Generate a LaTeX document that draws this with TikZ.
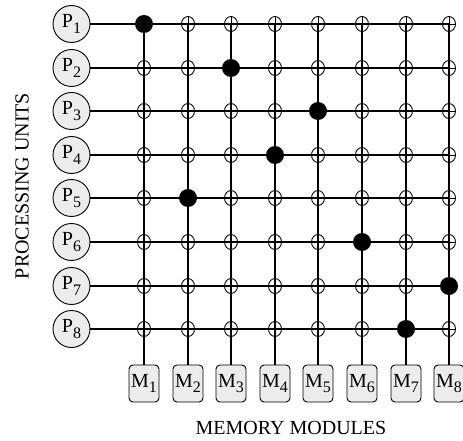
\documentclass[tikz,border=0pt]{standalone}
\usepackage{fontspec}
\setmainfont{Liberation Serif}
\usetikzlibrary{shapes.geometric}
\newcommand\lowsub[1]{\raisebox{-5.5pt}{\fontsize{16}{16}\selectfont#1}}
\begin{document}
\begin{tikzpicture}[x=1pt,y=-1pt,
  wire/.style={line width=1.5pt},
  proc/.style={circle, draw, line width=0.9pt, fill=gray!15, minimum size=37pt, inner sep=0pt, font=\fontsize{20}{20}\selectfont},
  mem/.style={rectangle, rounded corners=4pt, draw, line width=0.9pt, fill=gray!15, minimum width=30pt, minimum height=37pt, inner sep=0pt, font=\fontsize{20}{20}\selectfont},
  xing/.style={ellipse, draw, line width=0.9pt, minimum width=13pt, minimum height=15pt, inner sep=0pt,
    path picture={\draw[line width=0.9pt] (path picture bounding box.north) -- (path picture bounding box.south)
      (path picture bounding box.west) -- (path picture bounding box.east);}},
  dot/.style={circle, fill=black, minimum size=18pt, inner sep=0pt},
  lbl/.style={font=\fontsize{20}{20}\selectfont}
]
\useasboundingbox (0,0) rectangle (463,441);
\foreach \i/\y in {1/24,2/68,3/111,4/155,5/198,6/242,7/286,8/329}{
  \node[proc] (P\i) at (71.5,\y) {P\lowsub{\i}};
  \foreach \j/\x in {1/144,2/188,3/231,4/275,5/318,6/362,7/406,8/449}
    \coordinate (c\i-\j) at (\x,\y);
}
\foreach \j/\x in {1/144,2/188,3/231,4/275,5/318,6/362,7/406,8/449}
  \node[mem] (M\j) at (\x,383.5) {M\lowsub{\j}};
\foreach \i in {1,...,8}{
  \draw[wire] (P\i) -- (c\i-8);
  \draw[wire] (c1-\i) -- (M\i);
}
\foreach \i/\k in {1/1,2/3,3/5,4/4,5/2,6/6,7/8,8/7}{
  \foreach \j in {1,...,8}{
    \ifnum\j=\k\relax
      \node[dot] (d\i-\j) at (c\i-\j) {};
    \else
      \node[xing] (x\i-\j) at (c\i-\j) {};
    \fi
  }
}
\node[lbl, rotate=90] (pu) at (22,186) {PROCESSING UNITS};
\node[lbl] (mm) at (291,428) {MEMORY MODULES};
\end{tikzpicture}
\end{document}
